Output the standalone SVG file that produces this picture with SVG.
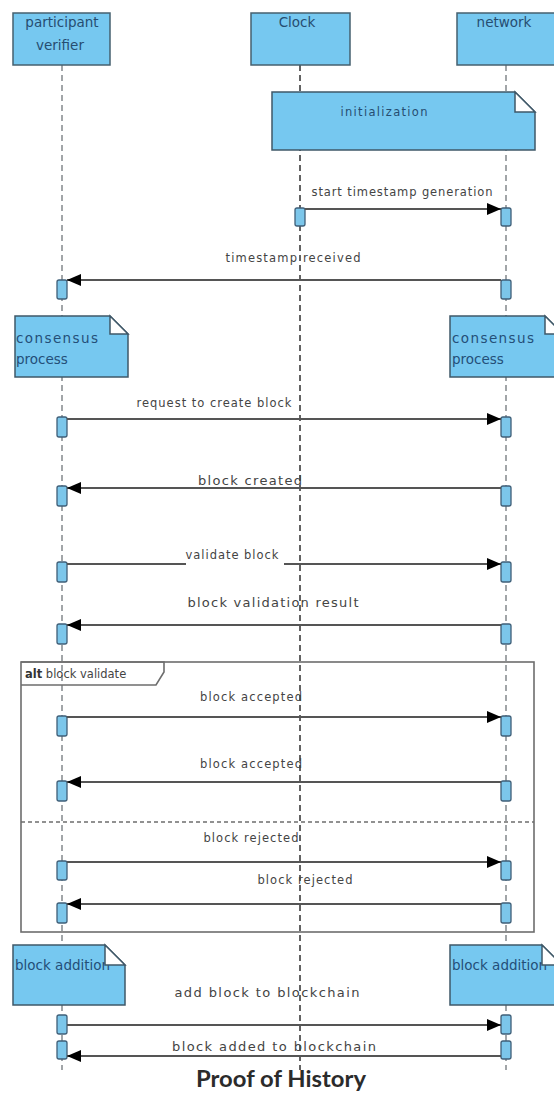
<svg xmlns="http://www.w3.org/2000/svg" width="554" height="1093" viewBox="0 0 554 1093">
  <style>
    .head { fill: #76c8f0; stroke: #46606f; stroke-width: 1.5; }
    .headtxt { font-family: "DejaVu Sans", "Liberation Sans", sans-serif; font-size: 13.5px; fill: #264d70; }
    .note { fill: #76c8f0; stroke: #3f5868; stroke-width: 1.5; }
    .fold { fill: #ffffff; stroke: #3f5868; stroke-width: 1.5; }
    .notetxt { font-family: "DejaVu Sans", "Liberation Sans", sans-serif; font-size: 13.5px; fill: #244f78; }
    .life { stroke: #8a8f93; stroke-width: 1.6; stroke-dasharray: 6 4; fill: none; }
    .lifeclk { stroke: #222; stroke-width: 1.4; stroke-dasharray: 6 4; fill: none; }
    .act { fill: #7cc6ea; stroke: #3f5f78; stroke-width: 1.3; }
    .msg { stroke: #555; stroke-width: 2; fill: none; }
    .lbl { font-family: "DejaVu Sans", "Liberation Sans", sans-serif; font-size: 11.5px; fill: #444; }
    .lbl2 { font-family: "DejaVu Sans", "Liberation Sans", sans-serif; font-size: 13px; fill: #444; }
    .frame { fill: none; stroke: #6d6d6d; stroke-width: 1.6; }
    .divider { stroke: #6d6d6d; stroke-width: 1.3; stroke-dasharray: 4 3; }
  </style>
  <defs>
    <marker id="arrow" viewBox="0 0 14 12" refX="14" refY="6" markerWidth="14" markerHeight="12" markerUnits="userSpaceOnUse" orient="auto">
      <path d="M0,0 L14,6 L0,12 Z" fill="#000"/>
    </marker>
    <clipPath id="clipLeftAdd"><rect x="13" y="945" width="112" height="60"/></clipPath>
  </defs>

  <rect width="554" height="1093" fill="#ffffff"/>

  <!-- lifelines -->
  <g id="lifelines">
    <line class="life" x1="62" y1="65" x2="62" y2="1070"/>
    <line class="lifeclk" x1="300" y1="65" x2="300" y2="1070"/>
    <line class="life" x1="506" y1="65" x2="506" y2="1070"/>
  </g>

  <!-- participant heads -->
  <g id="participant-verifier">
    <rect class="head" x="13" y="13" width="97" height="52"/>
    <text class="headtxt" x="62" y="27" text-anchor="middle">participant</text>
    <text class="headtxt" x="60" y="50" text-anchor="middle">verifier</text>
  </g>
  <g id="clock">
    <rect class="head" x="251" y="13" width="99" height="52"/>
    <text class="headtxt" x="297" y="27" text-anchor="middle">Clock</text>
  </g>
  <g id="network">
    <rect class="head" x="457" y="13" width="99" height="52"/>
    <text class="headtxt" x="504" y="27" text-anchor="middle">network</text>
  </g>

  <!-- notes -->
  <g id="note-initialization">
    <path class="note" d="M272,92 H515 L535,112 V150 H272 Z"/>
    <path class="fold" d="M515,92 V112 H535 Z"/>
    <text class="lbl" x="384" y="116" text-anchor="middle" style="fill:#264d70" textLength="87">initialization</text>
  </g>
  <g id="note-consensus-left">
    <path class="note" d="M15,316 H110 L128,334 V377 H15 Z"/>
    <path class="fold" d="M110,316 V334 H128 Z"/>
    <text class="notetxt" x="16" y="343" textLength="82">consensus</text>
    <text class="notetxt" x="16" y="364">process</text>
  </g>
  <g id="note-consensus-right">
    <path class="note" d="M450,316 H545 L563,334 V377 H450 Z"/>
    <path class="fold" d="M545,316 V334 H563 Z"/>
    <text class="notetxt" x="452" y="343" textLength="82">consensus</text>
    <text class="notetxt" x="452" y="364">process</text>
  </g>

  <!-- alt combined fragment -->
  <g id="alt-fragment">
    <rect class="frame" x="21" y="662" width="513" height="270"/>
    <path class="frame" d="M21,662 H164 V672 L156,685 H21"/>
    <text x="25" y="678" font-family="DejaVu Sans, Liberation Sans, sans-serif" font-size="11.5" fill="#333"><tspan font-weight="bold">alt</tspan><tspan fill="#444"> block validate</tspan></text>
    <line class="divider" x1="21" y1="822" x2="534" y2="822"/>
  </g>

  <g id="note-block-addition-left">
    <path class="note" d="M13,945 H105 L125,965 V1005 H13 Z"/>
    <text class="notetxt" x="15" y="970" clip-path="url(#clipLeftAdd)">block addition</text>
    <path class="fold" d="M105,945 V965 H125 Z"/>
  </g>
  <g id="note-block-addition-right">
    <path class="note" d="M450,945 H542 L562,965 V1005 H450 Z"/>
    <text class="notetxt" x="452" y="970">block addition</text>
    <path class="fold" d="M542,945 V965 H562 Z"/>
  </g>

  <!-- activation bars -->
  <g id="activations">
    <rect class="act" x="295" y="208" width="10" height="18" rx="2"/>
    <rect class="act" x="501" y="208" width="10" height="18" rx="2"/>
    <rect class="act" x="57" y="280" width="10" height="19" rx="2"/>
    <rect class="act" x="501" y="280" width="10" height="19" rx="2"/>
    <rect class="act" x="57" y="417" width="10" height="20" rx="2"/>
    <rect class="act" x="501" y="417" width="10" height="20" rx="2"/>
    <rect class="act" x="57" y="486" width="10" height="20" rx="2"/>
    <rect class="act" x="501" y="486" width="10" height="20" rx="2"/>
    <rect class="act" x="57" y="562" width="10" height="20" rx="2"/>
    <rect class="act" x="501" y="562" width="10" height="20" rx="2"/>
    <rect class="act" x="57" y="624" width="10" height="20" rx="2"/>
    <rect class="act" x="501" y="624" width="10" height="20" rx="2"/>
    <rect class="act" x="57" y="716" width="10" height="20" rx="2"/>
    <rect class="act" x="501" y="716" width="10" height="20" rx="2"/>
    <rect class="act" x="57" y="781" width="10" height="20" rx="2"/>
    <rect class="act" x="501" y="781" width="10" height="20" rx="2"/>
    <rect class="act" x="57" y="861" width="10" height="19" rx="2"/>
    <rect class="act" x="501" y="861" width="10" height="19" rx="2"/>
    <rect class="act" x="57" y="903" width="10" height="20" rx="2"/>
    <rect class="act" x="501" y="903" width="10" height="20" rx="2"/>
    <rect class="act" x="57" y="1015" width="10" height="19" rx="2"/>
    <rect class="act" x="501" y="1015" width="10" height="19" rx="2"/>
    <rect class="act" x="57" y="1041" width="10" height="18" rx="2"/>
    <rect class="act" x="501" y="1041" width="10" height="18" rx="2"/>
  </g>

  <!-- messages -->
  <g id="connectors">
    <line class="msg" x1="305" y1="209" x2="501" y2="209" marker-end="url(#arrow)"/>
    <text class="lbl" x="402" y="196" text-anchor="middle" textLength="181">start timestamp generation</text>

    <line class="msg" x1="501" y1="280" x2="67" y2="280" marker-end="url(#arrow)"/>
    <text class="lbl" x="293" y="262" text-anchor="middle" textLength="135">timestamp received</text>

    <line class="msg" x1="67" y1="419" x2="501" y2="419" marker-end="url(#arrow)"/>
    <text class="lbl" x="214" y="407" text-anchor="middle" textLength="155">request to create block</text>

    <line class="msg" x1="501" y1="488" x2="67" y2="488" marker-end="url(#arrow)"/>
    <text class="lbl2" x="250" y="485" text-anchor="middle" textLength="104">block created</text>

    <line class="msg" x1="67" y1="564" x2="186" y2="564"/>
    <line class="msg" x1="284" y1="564" x2="501" y2="564" marker-end="url(#arrow)"/>
    <text class="lbl" x="232" y="559" text-anchor="middle" textLength="93">validate block</text>

    <line class="msg" x1="501" y1="625" x2="67" y2="625" marker-end="url(#arrow)"/>
    <text class="lbl2" x="273" y="607" text-anchor="middle" textLength="171">block validation result</text>

    <line class="msg" x1="67" y1="717" x2="501" y2="717" marker-end="url(#arrow)"/>
    <text class="lbl" x="251" y="701" text-anchor="middle" textLength="102">block accepted</text>

    <line class="msg" x1="501" y1="782" x2="67" y2="782" marker-end="url(#arrow)"/>
    <text class="lbl" x="251" y="768" text-anchor="middle" textLength="102">block accepted</text>

    <line class="msg" x1="67" y1="862" x2="501" y2="862" marker-end="url(#arrow)"/>
    <text class="lbl" x="251" y="842" text-anchor="middle" textLength="95">block rejected</text>

    <line class="msg" x1="501" y1="904" x2="67" y2="904" marker-end="url(#arrow)"/>
    <text class="lbl" x="305" y="884" text-anchor="middle" textLength="95">block rejected</text>

    <line class="msg" x1="67" y1="1025" x2="501" y2="1025" marker-end="url(#arrow)"/>
    <text class="lbl2" x="267" y="997" text-anchor="middle" textLength="185">add block to blockchain</text>

    <line class="msg" x1="501" y1="1056" x2="67" y2="1056" marker-end="url(#arrow)"/>
    <text class="lbl2" x="274" y="1051" text-anchor="middle" textLength="204">block added to blockchain</text>
  </g>

  <text x="281" y="1087" text-anchor="middle" font-family="Lato, 'Open Sans', sans-serif" font-weight="bold" font-size="22" fill="#2b2b2b" textLength="170" lengthAdjust="spacingAndGlyphs">Proof of History</text>
</svg>
